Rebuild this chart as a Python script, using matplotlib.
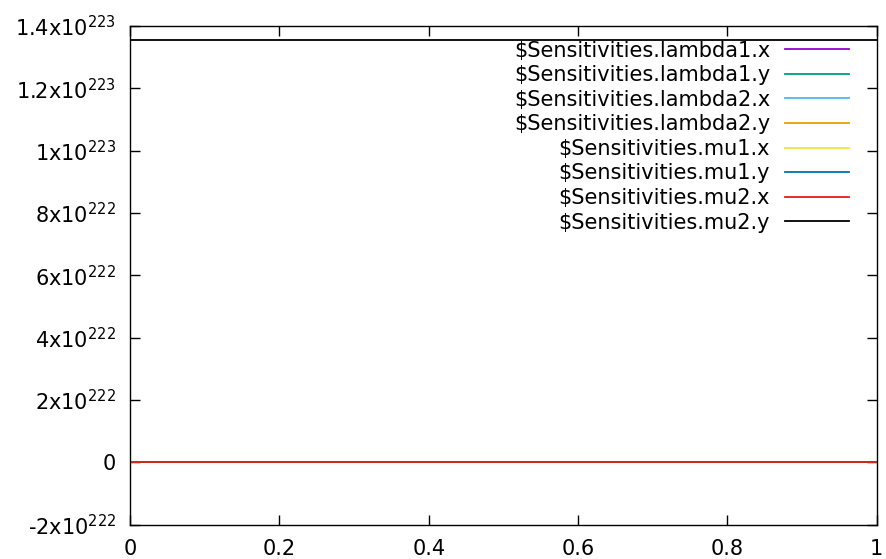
import numpy as np
import matplotlib
matplotlib.use("Agg")
import matplotlib.pyplot as plt
from matplotlib.ticker import FuncFormatter, MultipleLocator

# sensitivity series, sampled at the two ends of the unit interval
x = [0.0, 1.0]
series_names = [
    "$Sensitivities.lambda1.x",
    "$Sensitivities.lambda1.y",
    "$Sensitivities.lambda2.x",
    "$Sensitivities.lambda2.y",
    "$Sensitivities.mu1.x",
    "$Sensitivities.mu1.y",
    "$Sensitivities.mu2.x",
    "$Sensitivities.mu2.y",
]
series_values = [
    [0.0, 0.0],
    [0.0, 0.0],
    [0.0, 0.0],
    [0.0, 0.0],
    [0.0, 0.0],
    [0.0, 0.0],
    [0.0, 0.0],
    [1.355e223, 1.355e223],
]
colors = ["#9400d3", "#009e73", "#56b4e9", "#e69f00",
          "#f0e442", "#0072b2", "#e51e10", "#000000"]

y_min, y_max = -2e222, 1.4e223


def sci_label(v, pos):
    if v == 0:
        return "0"
    exp = int(np.floor(np.log10(abs(v)) + 1e-9))
    mant = v / 10 ** exp
    mant_s = f"{mant:.1f}".rstrip("0").rstrip(".")
    return f"{mant_s}x10$^{{{exp}}}$"


plt.rcParams["font.family"] = "DejaVu Sans"
plt.rcParams["mathtext.default"] = "regular"

fig = plt.figure(figsize=(8.87, 5.59), dpi=100)
ax = fig.add_axes([0.1466, 0.0614, 0.8418, 0.8921])

for name, vals, c in zip(series_names, series_values, colors):
    ax.plot(x, vals, color=c, lw=1.3, label=name)

ax.set_xlim(0, 1)
ax.set_ylim(y_min, y_max)
ax.xaxis.set_major_locator(MultipleLocator(0.2))
ax.yaxis.set_major_locator(MultipleLocator(2e222))
ax.xaxis.set_major_formatter(FuncFormatter(lambda v, p: f"{v:g}"))
ax.yaxis.set_major_formatter(FuncFormatter(sci_label))
ax.tick_params(direction="in", length=7, width=1, top=True, right=True,
               labelsize=15)
ax.tick_params(axis="y", pad=10)
ax.tick_params(axis="x", pad=10)
for s in ax.spines.values():
    s.set_linewidth(1.0)

ax.legend(loc="upper right", bbox_to_anchor=(0.982, 1.0), frameon=False,
          markerfirst=False, fontsize=15, handlelength=3.05,
          labelspacing=0.22, handletextpad=0.72, borderaxespad=0.3)

fig.savefig("out.png", dpi=100)
